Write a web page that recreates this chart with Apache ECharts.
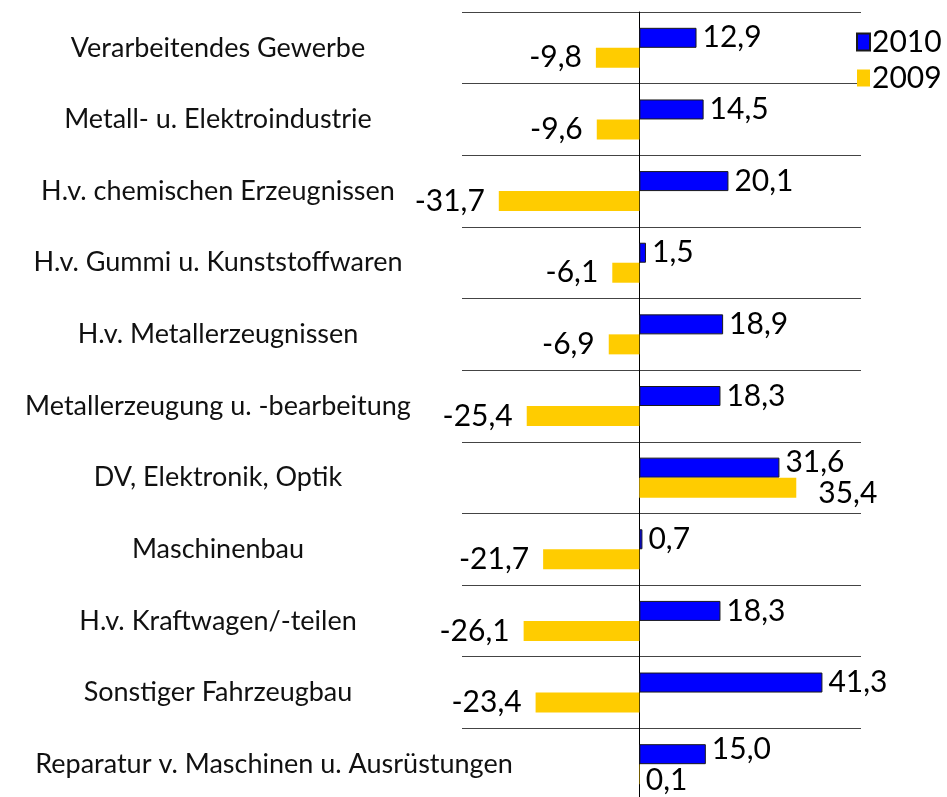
<!DOCTYPE html>
<html>
<head>
<meta charset="utf-8">
<script src="https://cdn.jsdelivr.net/npm/echarts@6/dist/echarts.min.js"></script>
<style>
html, body { margin: 0; padding: 0; background: #fff; }
#chart { width: 947px; height: 797px; }
</style>
</head>
<body>
<div id="chart"></div>
<script>
const categories = [
  'Verarbeitendes Gewerbe',
  'Metall- u. Elektroindustrie',
  'H.v. chemischen Erzeugnissen',
  'H.v. Gummi u. Kunststoffwaren',
  'H.v. Metallerzeugnissen',
  'Metallerzeugung u. -bearbeitung',
  'DV, Elektronik, Optik',
  'Maschinenbau',
  'H.v. Kraftwagen/-teilen',
  'Sonstiger Fahrzeugbau',
  'Reparatur v. Maschinen u. Ausrüstungen'
];
const values2010 = [12.9, 14.5, 20.1, 1.5, 18.9, 18.3, 31.6, 0.7, 18.3, 41.3, 15.0];
const values2009 = [-9.8, -9.6, -31.7, -6.1, -6.9, -25.4, 35.4, -21.7, -26.1, -23.4, 0.1];

const fmt = p => p.value.toFixed(1).replace('.', ',');
const font = 'Lato';

// the long last label sits further right in the original
const catData = categories.map((c, i) =>
  i === categories.length - 1 ? { value: c, textStyle: { align: 'center', padding: [0, 0, 0, 112] } } : c);

// when both labels of a category sit right of the axis, push them apart
const bothRight = i => values2010[i] >= 0 && values2009[i] >= 0;

const data2010 = values2010.map((v, i) => ({
  value: v,
  label: { offset: [0, bothRight(i) ? -5 : 0] }
}));
const data2009 = values2009.map((v, i) => ({
  value: v,
  label: {
    position: v < 0 ? 'left' : 'right',
    distance: v < 0 ? 14 : (v > 1 ? 22 : 6),
    offset: [0, bothRight(i) ? 6 : 0]
  }
}));

const options = {
  animation: false,
  legend: {
    orient: 'vertical',
    left: 851,
    top: 22,
    itemWidth: 13,
    itemHeight: 17,
    itemGap: 6,
    icon: 'rect',
    textStyle: { fontFamily: font, fontSize: 30, color: '#000', padding: [0, 0, 0, -3] },
    data: ['2010', '2009']
  },
  grid: { left: 462, right: 86, top: 12, bottom: -3, containLabel: false, outerBoundsMode: 'none' },
  xAxis: {
    type: 'value',
    min: -40,
    max: 50,
    show: false
  },
  yAxis: {
    type: 'category',
    inverse: true,
    data: catData,
    axisLine: { onZero: true, lineStyle: { color: '#000', width: 1 } },
    axisTick: { show: false },
    splitLine: { show: true, lineStyle: { color: '#444', width: 1 } },
    axisLabel: {
      margin: 244,
      align: 'center',
      padding: [8, 0, 0, 0],
      fontFamily: font,
      fontSize: 27,
      color: '#111'
    }
  },
  series: [
    {
      name: '2010',
      type: 'bar',
      barWidth: 20,
      barGap: '0%',
      data: data2010,
      itemStyle: { color: '#0000ff', borderColor: '#1a1a1a', borderWidth: 1 },
      label: { show: true, position: 'right', distance: 6, formatter: fmt,
        fontFamily: font, fontSize: 30, color: '#000' }
    },
    {
      name: '2009',
      type: 'bar',
      barWidth: 20,
      barGap: '0%',
      data: data2009,
      itemStyle: { color: '#ffcc00' },
      label: { show: true, formatter: fmt, fontFamily: font, fontSize: 30, color: '#000' }
    }
  ]
};

echarts.init(document.getElementById('chart')).setOption(options);
</script>
</body>
</html>
